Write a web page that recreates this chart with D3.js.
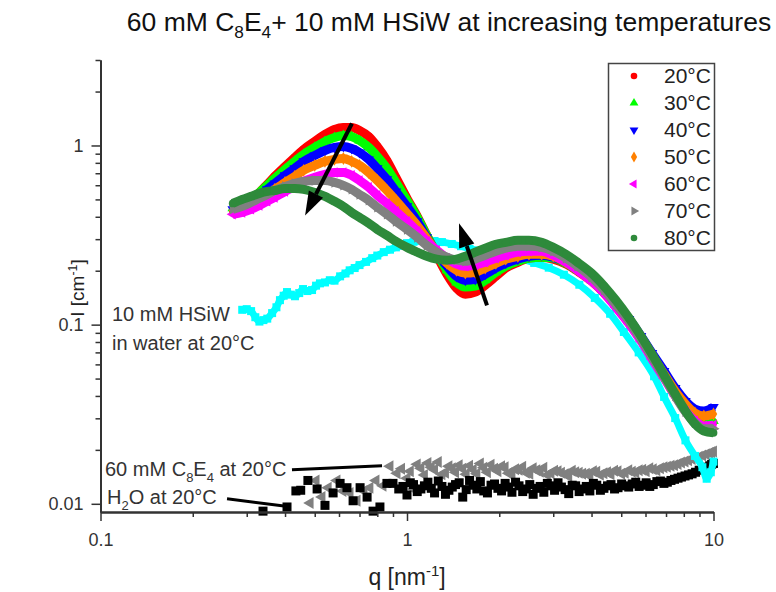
<!DOCTYPE html>
<html>
<head>
<meta charset="utf-8">
<script src="https://cdn.jsdelivr.net/npm/d3@7"></script>
<style>
body { margin: 0; background: #fff; }
svg { font-family: "Liberation Sans", Arial, sans-serif; }
</style>
</head>
<body>
<svg></svg>
<script>
// q values shared by the temperature series [nm^-1]
var qT = [0.27,0.29,0.31,0.33,0.35,0.37,0.40,0.43,0.46,0.50,0.54,0.58,0.62,0.66,0.70,0.75,0.80,0.86,0.92,1.0,
  1.08,1.16,1.25,1.35,1.45,1.55,1.67,1.8,1.95,2.1,2.3,2.5,2.75,3.0,3.3,3.6,4.0,4.4,4.8,5.3,5.8,6.3,6.9,7.5,8.1,8.7,9.3,10];

var int20 = [0.434,0.463,0.500,0.547,0.607,0.672,0.764,0.857,0.950,1.053,1.152,1.228,1.260,1.260,1.212,1.122,0.987,0.825,0.664,0.507,
  0.402,0.315,0.244,0.191,0.160,0.148,0.152,0.166,0.186,0.207,0.223,0.235,0.238,0.232,0.218,0.199,0.175,0.150,0.127,0.102,0.082,0.0659,0.0510,0.0405,0.0334,0.0297,0.0283,0.0286];
var int30 = [0.446,0.475,0.507,0.547,0.599,0.655,0.735,0.815,0.891,0.975,1.053,1.108,1.137,1.122,1.066,0.975,0.868,0.745,0.622,0.494,
  0.397,0.315,0.250,0.201,0.172,0.162,0.164,0.177,0.196,0.212,0.226,0.235,0.238,0.235,0.220,0.201,0.177,0.152,0.129,0.1035,0.0830,0.0668,0.0516,0.0410,0.0343,0.0301,0.0286,0.0290];
var int40 = [0.440,0.463,0.494,0.527,0.569,0.614,0.681,0.745,0.815,0.880,0.938,0.975,0.987,0.962,0.914,0.836,0.745,0.647,0.554,0.457,
  0.377,0.307,0.250,0.212,0.186,0.177,0.179,0.191,0.207,0.220,0.232,0.241,0.244,0.238,0.223,0.204,0.179,0.156,0.132,0.1075,0.0863,0.0694,0.0551,0.0443,0.0375,0.0338,0.0330,0.0347];
var int50 = [0.434,0.452,0.475,0.500,0.533,0.569,0.622,0.672,0.726,0.774,0.815,0.836,0.846,0.815,0.774,0.707,0.638,0.561,0.494,0.418,
  0.358,0.303,0.254,0.220,0.201,0.194,0.196,0.207,0.220,0.232,0.241,0.247,0.247,0.241,0.223,0.204,0.179,0.154,0.130,0.106,0.0852,0.0676,0.0530,0.0426,0.0361,0.0321,0.0309,0.0317];
var int60 = [0.413,0.423,0.440,0.463,0.488,0.513,0.554,0.591,0.630,0.664,0.690,0.707,0.707,0.681,0.638,0.584,0.527,0.475,0.429,0.377,
  0.332,0.292,0.260,0.235,0.218,0.212,0.215,0.223,0.235,0.244,0.254,0.257,0.257,0.244,0.223,0.201,0.175,0.150,0.125,0.101,0.0809,0.0642,0.0503,0.0400,0.0330,0.0290,0.0272,0.0275];
var int70 = [0.440,0.457,0.481,0.507,0.533,0.561,0.591,0.614,0.630,0.638,0.638,0.622,0.599,0.569,0.533,0.494,0.452,0.413,0.377,0.340,
  0.307,0.277,0.254,0.238,0.229,0.226,0.232,0.244,0.257,0.267,0.274,0.274,0.270,0.257,0.235,0.212,0.184,0.156,0.130,0.105,0.0830,0.0659,0.0510,0.0400,0.0326,0.0283,0.0262,0.0262];
var int80 = [0.475,0.500,0.520,0.540,0.554,0.561,0.576,0.576,0.569,0.547,0.520,0.488,0.457,0.423,0.397,0.368,0.340,0.315,0.292,0.270,
  0.254,0.241,0.232,0.229,0.232,0.241,0.254,0.267,0.281,0.288,0.296,0.296,0.288,0.270,0.247,0.223,0.194,0.164,0.137,0.109,0.0863,0.0685,0.0523,0.0410,0.0330,0.0279,0.0255,0.0249];

var tempLabels = ['20°C','30°C','40°C','50°C','60°C','70°C','80°C'];
var tempColors = ['#ff0000','#00ff00','#0000ff','#ff8000','#ff00ff','#808080','#2e8a3b'];

// 10 mM HSiW in water at 20°C
var hsiwQ = [0.29,0.30,0.31,0.32,0.33,0.34,0.35,0.363,0.375,0.385,0.396,0.406,0.418,0.431,0.445,0.458,0.473,0.49,0.505,0.52,
  0.54,0.56,0.58,0.605,0.63,0.65,0.675,0.70,0.735,0.77,0.80,0.84,0.88,0.92,0.96,1.0,1.05,1.1,1.16,1.23,1.3,1.4,1.5,1.6,1.7,
  1.85,2.0,2.15,2.35,2.6,2.9,3.25,3.65,4.1,4.6,5.1,5.7,6.4,6.9,7.5,8.1,8.7,9.2,9.5,9.8,10];
var hsiwI = [0.121,0.122,0.119,0.110,0.104,0.106,0.108,0.116,0.125,0.137,0.145,0.152,0.147,0.144,0.150,0.158,0.154,0.156,0.165,0.170,
  0.172,0.177,0.176,0.186,0.193,0.201,0.207,0.215,0.224,0.235,0.243,0.254,0.262,0.270,0.276,0.285,0.290,0.294,0.296,0.293,0.289,0.282,0.274,0.265,0.259,
  0.251,0.245,0.239,0.232,0.221,0.208,0.190,0.167,0.141,0.115,0.091,0.0700,0.0515,0.0395,0.0301,0.0226,0.0185,0.0160,0.0138,0.0150,0.0172];

// H2O at 20°C
var waterQ = [0.339,0.406,0.434,0.45,0.475,0.509,0.54,0.574,0.605,0.637,0.667,0.703,0.741,0.775,0.816,0.86,0.9,0.94,0.97,
  1.0,1.05,1.11,1.17,1.23,1.3,1.37,1.44,1.52,1.6,1.69,1.78,1.88,1.98,2.09,2.2,2.32,2.45,2.58,2.72,2.87,3.03,3.19,3.37,3.55,
  3.74,3.95,4.16,4.39,4.63,4.88,5.15,5.43,5.72,6.03,6.36,6.71,7.07,7.46,7.86,8.29,8.74,9.22,9.72,10.0,
  1.025,1.08,1.14,1.2,1.265,1.335,1.405,1.48,1.56,1.645,1.735,1.83,1.93,2.035,2.145,2.26,2.385,2.515,2.65,2.795,2.95,3.11,
  3.28,3.46,3.645,3.845,4.055,4.275,4.51,4.755,5.015,5.29,5.575,5.875,6.195,6.535,6.89,7.265,7.66,8.075,8.515,8.98,9.47,9.86];
var waterI = [0.0091,0.0096,0.0118,0.0119,0.0135,0.0121,0.0098,0.0115,0.0130,0.0123,0.0104,0.0123,0.0109,0.0091,0.0096,0.0130,0.0130,0.0121,0.0125,
  0.0112,0.0128,0.0121,0.0132,0.0115,0.0125,0.0119,0.0128,0.0109,0.0135,0.0121,0.0118,0.0127,0.0122,0.0130,0.0116,0.0126,0.0121,0.0113,0.0125,0.0130,0.0119,0.0124,0.0114,0.0126,
  0.0121,0.0118,0.0127,0.0122,0.0128,0.0123,0.0126,0.0129,0.0125,0.0131,0.0128,0.0134,0.0132,0.0137,0.0141,0.0145,0.0150,0.0157,0.0163,0.0168,
  0.0131,0.0117,0.0126,0.0122,0.0134,0.0113,0.0124,0.0131,0.0120,0.0127,0.0133,0.0115,0.0129,0.0118,0.0124,0.0132,0.0117,0.0128,0.0122,0.0116,0.0126,0.0131,
  0.0120,0.0127,0.0117,0.0125,0.0130,0.0119,0.0126,0.0121,0.0129,0.0124,0.0132,0.0127,0.0125,0.0133,0.0130,0.0135,0.0139,0.0143,0.0147,0.0154,0.0160,0.0166];

// 60 mM C8E4 at 20°C
var surfQ = [0.483,0.505,0.528,0.553,0.591,0.618,0.652,0.687,0.724,0.757,0.792,0.835,0.88,0.928,0.96,
  1.0,1.05,1.11,1.17,1.23,1.3,1.37,1.44,1.52,1.6,1.69,1.78,1.88,1.98,2.09,2.2,2.32,2.45,2.58,2.72,2.87,3.03,3.19,3.37,3.55,
  3.74,3.95,4.16,4.39,4.63,4.88,5.15,5.43,5.72,6.03,6.36,6.71,7.07,7.46,7.86,8.29,8.74,9.22,9.72,10.0,
  1.025,1.08,1.14,1.2,1.265,1.335,1.405,1.48,1.56,1.645,1.735,1.83,1.93,2.035,2.145,2.26,2.385,2.515,2.65,2.795,2.95,3.11,
  3.28,3.46,3.645,3.845,4.055,4.275,4.51,4.755,5.015,5.29,5.575,5.875,6.195,6.535,6.89,7.265,7.66,8.075,8.515,8.98,9.47,9.86];
var surfI = [0.0101,0.0135,0.0109,0.0123,0.0135,0.0118,0.0115,0.0104,0.0118,0.0123,0.0135,0.0126,0.0162,0.0148,0.0157,
  0.0139,0.0121,0.0158,0.0169,0.0155,0.0146,0.0162,0.0150,0.0157,0.0163,0.0147,0.0159,0.0165,0.0152,0.0160,0.0146,0.0155,0.0149,0.0158,0.0151,0.0145,0.0153,0.0149,0.0143,0.0150,
  0.0147,0.0144,0.0151,0.0148,0.0146,0.0152,0.0149,0.0151,0.0154,0.0152,0.0156,0.0158,0.0161,0.0164,0.0170,0.0175,0.0180,0.0186,0.0192,0.0196,
  0.0152,0.0166,0.0145,0.0160,0.0171,0.0149,0.0158,0.0164,0.0146,0.0155,0.0168,0.0150,0.0157,0.0162,0.0148,0.0156,0.0161,0.0147,0.0154,0.0159,0.0148,0.0152,
  0.0146,0.0153,0.0149,0.0147,0.0152,0.0145,0.0150,0.0153,0.0147,0.0154,0.0150,0.0155,0.0158,0.0154,0.0160,0.0163,0.0167,0.0172,0.0178,0.0183,0.0189,0.0194];

var xMajor = [0.1, 1, 10];
var xMinor = [0.2,0.3,0.4,0.5,0.6,0.7,0.8,0.9,2,3,4,5,6,7,8,9];
var yMajor = [0.01, 0.1, 1];
var yMinor = [0.02,0.03,0.04,0.05,0.06,0.07,0.08,0.09,0.2,0.3,0.4,0.5,0.6,0.7,0.8,0.9,2,3];

var width = 776,
  height = 592;

var svg = d3.select('svg')
  .attr('width', width)
  .attr('height', height);

var x = d3.scaleLog().domain([0.1, 10]).range([100.5, 713.5]);
var y = d3.scaleLog().domain([0.009, 3]).range([512, 60]);

// writes text with sub/superscript pieces
function rich(sel, parts, size) {
  var shift = 0;
  parts.forEach(function(p) {
    var target = p[1] == 'sub' ? size * 0.28 : p[1] == 'sup' ? -size * 0.38 : 0;
    var ts = sel.append('tspan').attr('dy', target - shift).text(p[0]);
    if (p[1]) ts.attr('font-size', size * 0.65);
    shift = target;
  });
}

var symbols = [
  {type: d3.symbolCircle, rot: 0},
  {type: d3.symbolTriangle, rot: 0},
  {type: d3.symbolTriangle, rot: 180},
  {type: d3.symbolDiamond, rot: 0},
  {type: d3.symbolTriangle, rot: -90},
  {type: d3.symbolTriangle, rot: 90},
  {type: d3.symbolCircle, rot: 0}
];

var temps = [int20, int30, int40, int50, int60, int70, int80].map(function(arr, i) {
  return {label: tempLabels[i], color: tempColors[i], sym: symbols[i],
    pts: qT.map(function(q, j) { return [q, arr[j]]; })};
});

function zip(a, b) { return a.map(function(v, i) { return [v, b[i]]; }); }

var line = d3.line().x(d => x(d[0])).y(d => y(d[1])).curve(d3.curveMonotoneX);
var plot = svg.append('g');

// background measurements
plot.append('g').selectAll('path').data(zip(surfQ, surfI)).join('path')
  .attr('d', d3.symbol().type(d3.symbolTriangle).size(62))
  .attr('transform', d => 'translate(' + x(d[0]) + ',' + y(d[1]) + ') rotate(-90)')
  .attr('fill', '#808080');

plot.append('g').selectAll('rect').data(zip(waterQ, waterI)).join('rect')
  .attr('x', d => x(d[0]) - 4.5)
  .attr('y', d => y(d[1]) - 4.5)
  .attr('width', 9).attr('height', 9)
  .attr('fill', '#000');

var hsiw = zip(hsiwQ, hsiwI);
plot.append('path').datum(hsiw)
  .attr('d', line)
  .attr('fill', 'none').attr('stroke', '#00ffff')
  .attr('stroke-width', 7).attr('stroke-linejoin', 'round');
plot.append('g').selectAll('rect').data(hsiw).join('rect')
  .attr('x', d => x(d[0]) - 4)
  .attr('y', d => y(d[1]) - 4)
  .attr('width', 8).attr('height', 8)
  .attr('fill', '#00ffff');

temps.forEach(function(s) {
  var g = plot.append('g');
  g.append('path').datum(s.pts)
    .attr('d', line)
    .attr('fill', 'none').attr('stroke', s.color)
    .attr('stroke-width', 9).attr('stroke-linejoin', 'round');
  g.selectAll('.m').data(s.pts).join('path').attr('class', 'm')
    .attr('d', d3.symbol().type(s.sym.type).size(48))
    .attr('transform', d => 'translate(' + x(d[0]) + ',' + y(d[1]) + ') rotate(' + s.sym.rot + ')')
    .attr('fill', s.color);
});

// arrows showing the change with temperature
var arrows = [
  {from: [0.661, 1.326], to: [0.465, 0.407]},
  {from: [1.824, 0.128], to: [1.478, 0.368]}
];
arrows.forEach(function(a) {
  var x0 = x(a.from[0]), y0 = y(a.from[1]), x1 = x(a.to[0]), y1 = y(a.to[1]);
  var ang = Math.atan2(y1 - y0, x1 - x0), hl = 24, hw = 8;
  var bx = x1 - hl * Math.cos(ang), by = y1 - hl * Math.sin(ang);
  svg.append('line').attr('x1', x0).attr('y1', y0).attr('x2', bx).attr('y2', by)
    .attr('stroke', '#000').attr('stroke-width', 4);
  svg.append('path')
    .attr('d', 'M' + x1 + ',' + y1 +
      'L' + (bx + hw * Math.sin(ang)) + ',' + (by - hw * Math.cos(ang)) +
      'L' + (bx - hw * Math.sin(ang)) + ',' + (by + hw * Math.cos(ang)) + 'Z')
    .attr('fill', '#000');
});

// axes
var gx = svg.append('g').attr('transform', 'translate(0,512)');
gx.call(d3.axisBottom(x).tickValues(xMinor).tickSize(5).tickSizeOuter(0).tickFormat(''));
gx.append('g').call(d3.axisBottom(x).tickValues(xMajor).tickSize(9).tickSizeOuter(0).tickPadding(12).tickFormat(d3.format('~g')));

var gy = svg.append('g').attr('transform', 'translate(100.5,0)');
gy.call(d3.axisLeft(y).tickValues(yMinor).tickSize(5).tickSizeOuter(0).tickFormat(''));
gy.append('g').call(d3.axisLeft(y).tickValues(yMajor).tickSize(9).tickSizeOuter(0).tickPadding(8).tickFormat(d3.format('~g')));

svg.selectAll('.domain').attr('stroke', '#333').attr('stroke-width', 2);
svg.selectAll('.tick line').attr('stroke', '#333').attr('stroke-width', 1.5);
svg.selectAll('.tick text').attr('font-size', 18).attr('fill', '#333')
  .attr('font-family', '"Liberation Sans", Arial, sans-serif');

// titles
rich(svg.append('text').attr('x', 449).attr('y', 31).attr('text-anchor', 'middle')
  .attr('font-size', 26.5).attr('fill', '#111'),
  [['60 mM C'], ['8', 'sub'], ['E'], ['4', 'sub'], ['+ 10 mM HSiW at increasing temperatures']], 26.5);

rich(svg.append('text').attr('x', 407).attr('y', 585).attr('text-anchor', 'middle')
  .attr('font-size', 23).attr('fill', '#222'),
  [['q [nm'], ['-1', 'sup'], [']']], 23);

rich(svg.append('text').attr('transform', 'translate(84,288) rotate(-90)').attr('text-anchor', 'middle')
  .attr('font-size', 19).attr('fill', '#222'),
  [['I [cm'], ['-1', 'sup'], [']']], 19);

// notes
var note = svg.append('g').attr('font-size', 20).attr('fill', '#333');
note.append('text').attr('x', 112).attr('y', 321).text('10 mM HSiW');
note.append('text').attr('x', 112).attr('y', 350).text('in water at 20°C');
rich(note.append('text').attr('x', 105).attr('y', 476),
  [['60 mM C'], ['8', 'sub'], ['E'], ['4', 'sub'], [' at 20°C']], 20);
rich(note.append('text').attr('x', 107).attr('y', 504),
  [['H'], ['2', 'sub'], ['O at 20°C']], 20);

var leaders = [
  [[0.4214, 0.01547], [0.829, 0.0163]],
  [[0.2587, 0.01066], [0.415, 0.00962]]
];
svg.selectAll('.leader').data(leaders).join('line').attr('class', 'leader')
  .attr('x1', d => x(d[0][0])).attr('y1', d => y(d[0][1]))
  .attr('x2', d => x(d[1][0])).attr('y2', d => y(d[1][1]))
  .attr('stroke', '#000').attr('stroke-width', 3);

// legend
var legend = svg.append('g');
legend.append('rect').attr('x', 608.5).attr('y', 63.5).attr('width', 106).attr('height', 187)
  .attr('fill', '#fff').attr('stroke', '#444').attr('stroke-width', 1.5);
var li = legend.selectAll('.li').data(temps).join('g').attr('class', 'li')
  .attr('transform', (d, i) => 'translate(0,' + (76 + i * 27) + ')');
li.append('path')
  .attr('d', d => d3.symbol().type(d.sym.type).size(34)())
  .attr('transform', d => 'translate(634,0) rotate(' + d.sym.rot + ')')
  .attr('fill', d => d.color);
li.append('text').attr('x', 664).attr('y', 7).attr('font-size', 21).attr('fill', '#222')
  .text(d => d.label);
</script>
</body>
</html>
